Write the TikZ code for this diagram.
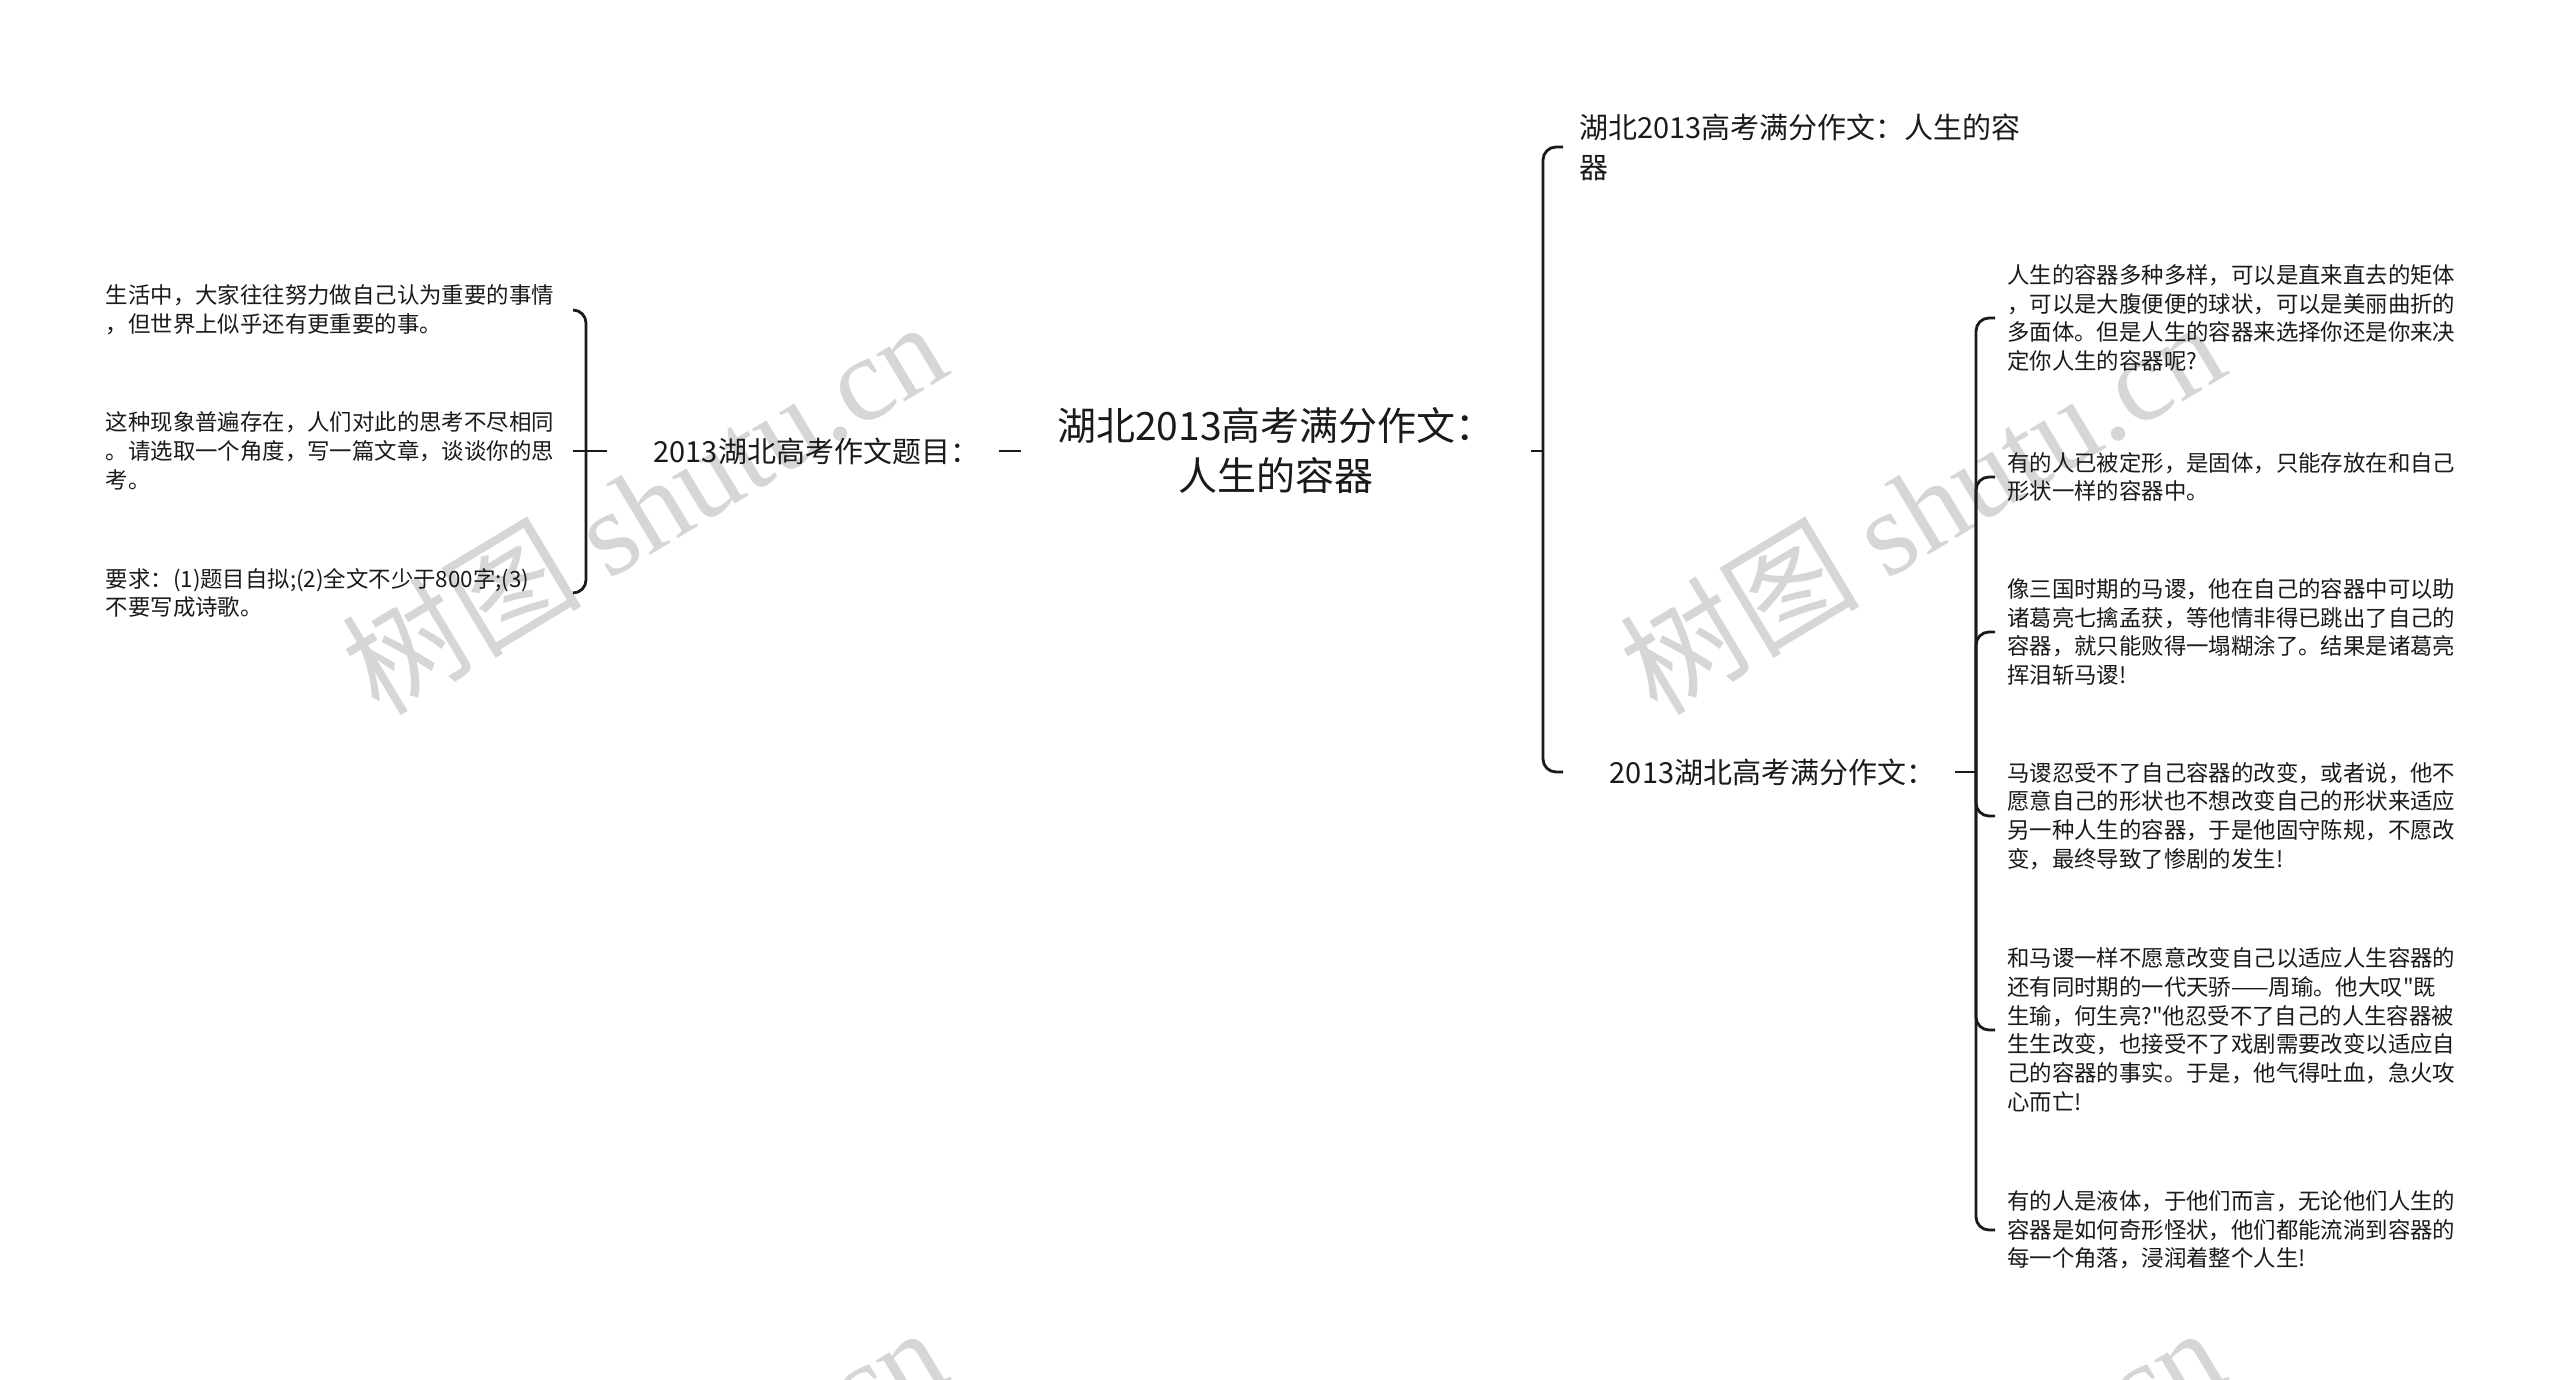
\documentclass[tikz,border=0pt]{standalone}
\usepackage{fontspec}
\setmainfont{Noto Sans CJK SC}[Ligatures=TeXOff]
\newfontfamily\wmlatin{Liberation Serif}
\definecolor{wm}{HTML}{D6D6D6}
\definecolor{ink}{HTML}{1A1A1A}
\begin{document}
\begin{tikzpicture}[x=1pt,y=-1pt,
  conn/.style={draw=ink, line width=2.8pt},
  elbow/.style={conn, rounded corners=13pt},
  small/.style={font=\fontsize{22.4}{28.7}\selectfont, text=ink, text width=455pt, align=left, inner xsep=12pt, inner ysep=4pt},
  mid/.style={font=\fontsize{29}{40}\selectfont, text=ink, inner ysep=4pt},
  root/.style={font=\fontsize{39}{50}\selectfont, text=ink, align=center, inner xsep=36pt},
  wmark/.style={text=wm, rotate=31, font=\fontsize{120}{120}\selectfont, inner sep=0pt}
]
\useasboundingbox (0,0) rectangle (2560,1380);
\fill[white] (0,0) rectangle (2560,1380);
\begin{scope}
\clip (0,0) rectangle (2560,1380);
\node[wmark] (wm1) at (643,506) {树图 {\wmlatin shutu.cn}};
\node[wmark] (wm2) at (1921,506) {树图 {\wmlatin shutu.cn}};
\node[wmark] (wm3) at (643,1512) {树图 {\wmlatin shutu.cn}};
\node[wmark] (wm4) at (1921,1512) {树图 {\wmlatin shutu.cn}};
\end{scope}

% root
\node[root] (C) at (1276,451) {湖北2013高考满分作文：\\人生的容器};

% left side
\node[mid, text width=352pt, align=right, inner xsep=20pt] (LL) at (803,451) {2013湖北高考作文题目：};
\node[small, anchor=east] (L1) at (573,310) {生活中，大家往往努力做自己认为重要的事情\\，但世界上似乎还有更重要的事。};
\node[small, anchor=east] (L2) at (573,451) {这种现象普遍存在，人们对此的思考不尽相同\\。请选取一个角度，写一篇文章，谈谈你的思\\考。};
\node[small, anchor=east] (L3) at (573,593) {要求：(1)题目自拟;(2)全文不少于800字;(3)\\不要写成诗歌。};

\draw[conn] (C.west) -- (LL.east);
\coordinate (jL) at (586,451);
\draw[conn] (LL.west) -- (jL);
\draw[elbow] (jL) |- (L1.east);
\draw[conn] (jL) -- (L2.east);
\draw[elbow] (jL) |- (L3.east);

% right side
\coordinate (jC) at (1543,451);
\draw[conn] (C.east) -- (jC);
\node[mid, anchor=west, align=left, inner xsep=16pt] (R1) at (1563,147) {湖北2013高考满分作文：人生的容\\器};
\node[mid, anchor=west, text width=352pt, align=right, inner xsep=20pt] (R2) at (1563,772) {2013湖北高考满分作文：};
\draw[elbow] (jC) |- (R1.west);
\draw[elbow] (jC) |- (R2.west);

\coordinate (jR) at (1976,772);
\draw[conn] (R2.east) -- (jR);
\node[small, anchor=west] (S1) at (1995,318) {人生的容器多种多样，可以是直来直去的矩体\\，可以是大腹便便的球状，可以是美丽曲折的\\多面体。但是人生的容器来选择你还是你来决\\定你人生的容器呢?};
\node[small, anchor=west] (S2) at (1995,477) {有的人已被定形，是固体，只能存放在和自己\\形状一样的容器中。};
\node[small, anchor=west] (S3) at (1995,632) {像三国时期的马谡，他在自己的容器中可以助\\诸葛亮七擒孟获，等他情非得已跳出了自己的\\容器，就只能败得一塌糊涂了。结果是诸葛亮\\挥泪斩马谡!};
\node[small, anchor=west] (S4) at (1995,816) {马谡忍受不了自己容器的改变，或者说，他不\\愿意自己的形状也不想改变自己的形状来适应\\另一种人生的容器，于是他固守陈规，不愿改\\变，最终导致了惨剧的发生!};
\node[small, anchor=west] (S5) at (1995,1030) {和马谡一样不愿意改变自己以适应人生容器的\\还有同时期的一代天骄——周瑜。他大叹"既\\生瑜，何生亮?"他忍受不了自己的人生容器被\\生生改变，也接受不了戏剧需要改变以适应自\\己的容器的事实。于是，他气得吐血，急火攻\\心而亡!};
\node[small, anchor=west] (S6) at (1995,1230) {有的人是液体，于他们而言，无论他们人生的\\容器是如何奇形怪状，他们都能流淌到容器的\\每一个角落，浸润着整个人生!};
\foreach \s in {S1,S2,S3,S4,S5,S6} {
  \draw[elbow] (jR) |- (\s.west);
}
\end{tikzpicture}
\end{document}
